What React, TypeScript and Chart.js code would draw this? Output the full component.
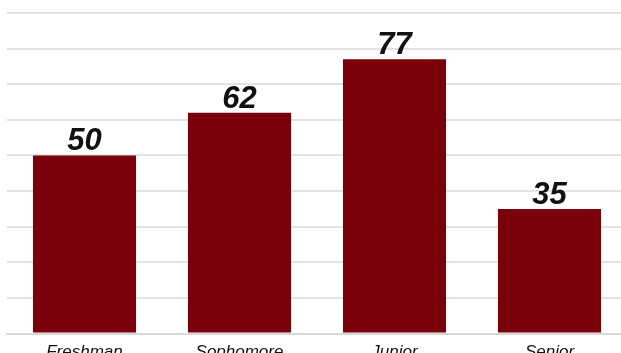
import React, { useEffect, useRef } from "react";
import { Chart, registerables } from "chart.js";

Chart.register(...registerables);

const categories = ["Freshman", "Sophomore", "Junior", "Senior"];
const values = [50, 62, 77, 35];
const yMax = 90;
const yStep = 10;

const valueLabels = {
  id: "valueLabels",
  afterDatasetsDraw(chart: any) {
    const { ctx } = chart;
    const meta = chart.getDatasetMeta(0);
    ctx.save();
    ctx.font = "italic bold 31px 'Liberation Sans', Arial, sans-serif";
    ctx.fillStyle = "#111111";
    ctx.textAlign = "center";
    ctx.textBaseline = "alphabetic";
    meta.data.forEach((bar: any, i: number) => {
      ctx.fillText(String(values[i]), bar.x, bar.y - 5);
    });
    ctx.restore();
  },
};

export default function App() {
  const ref = useRef<HTMLCanvasElement | null>(null);
  useEffect(() => {
    document.body.style.margin = "0";
    document.body.style.overflow = "hidden";
    const chart = new Chart(ref.current!, {
      type: "bar",
      data: {
        labels: categories,
        datasets: [
          {
            data: values,
            backgroundColor: "#7a0009",
            borderWidth: 0,
            categoryPercentage: 1,
            barPercentage: 0.665,
          },
        ],
      },
      options: {
        responsive: false,
        animation: false,
        layout: { padding: { left: 7, top: 13, right: 0, bottom: 0 } },
        plugins: { legend: { display: false }, tooltip: { enabled: false } },
        scales: {
          x: {
            grid: { display: false, drawTicks: false },
            border: { display: true, color: "#d8d8d8", width: 2 },
            ticks: {
              padding: 8,
              color: "#111111",
              font: { family: "'Liberation Sans', Arial, sans-serif", size: 17, style: "italic" },
            },
          },
          y: {
            min: 0,
            max: yMax,
            ticks: { display: false, stepSize: yStep },
            grid: { color: "#e3e3e3", lineWidth: 2, drawTicks: false },
            border: { display: false },
            afterFit(scale: any) {
              scale.width = 0;
            },
          },
        },
      },
      plugins: [valueLabels],
    });
    return () => chart.destroy();
  }, []);
  return (
    <div style={{ position: "fixed", left: 0, top: 0 }}>
      <canvas ref={ref} width={627} height={370} style={{ display: "block" }} />
    </div>
  );
}
